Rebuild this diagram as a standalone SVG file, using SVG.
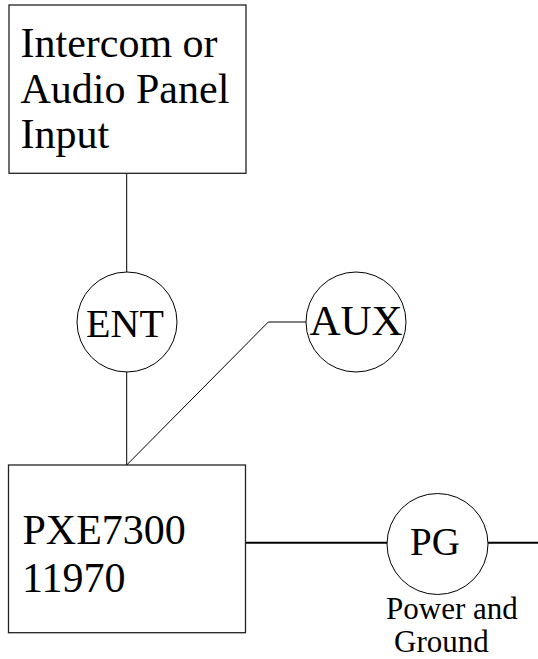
<svg xmlns="http://www.w3.org/2000/svg" width="538" height="659" viewBox="0 0 538 659">
<style>
.box{fill:#fff;stroke:#222;stroke-width:1.3}
.circ{fill:#fff;stroke:#000;stroke-width:1}
.ln{fill:none;stroke:#000;stroke-width:1}
.thick{fill:none;stroke:#000;stroke-width:2}
text{font-family:"Liberation Serif","Times New Roman",serif;fill:#000}
.big{font-size:42px}
.mid{text-anchor:middle}
.small{font-size:31px}
</style>
<rect width="538" height="659" fill="#fff"/>
<g id="connectors">
<line class="ln" x1="126.7" y1="173.3" x2="126.7" y2="272"/>
<line class="ln" x1="126.7" y1="372" x2="126.7" y2="465"/>
<polyline class="ln" points="126.7,465 268.3,322 306,322"/>
<line class="thick" x1="245" y1="542.7" x2="387" y2="542.7"/>
<line class="thick" x1="488" y1="542.7" x2="538" y2="542.7"/>
</g>
<g id="input">
<rect class="box" x="9" y="5" width="237" height="168.3"/>
<text class="big" x="20.5" y="57">Intercom or</text>
<text class="big" x="20.5" y="103">Audio Panel</text>
<text class="big" x="20.5" y="148">Input</text>
</g>
<g id="ent">
<circle class="circ" cx="127" cy="322" r="50"/>
<text class="mid" x="125" y="337" font-size="40">ENT</text>
</g>
<g id="aux">
<circle class="circ" cx="356" cy="322" r="50"/>
<text class="mid" x="356" y="335" font-size="43">AUX</text>
</g>
<g id="pxe">
<rect class="box" x="8.5" y="465" width="237" height="167.7"/>
<text class="big" x="22.5" y="544">PXE7300</text>
<text class="big" x="22" y="591.7">11970</text>
</g>
<g id="pg">
<circle class="circ" cx="437.5" cy="544" r="50.5"/>
<text class="mid" x="435" y="555" font-size="39">PG</text>
<text class="small" x="386" y="619">Power and</text>
<text class="small" x="394" y="652">Ground</text>
</g>
</svg>
